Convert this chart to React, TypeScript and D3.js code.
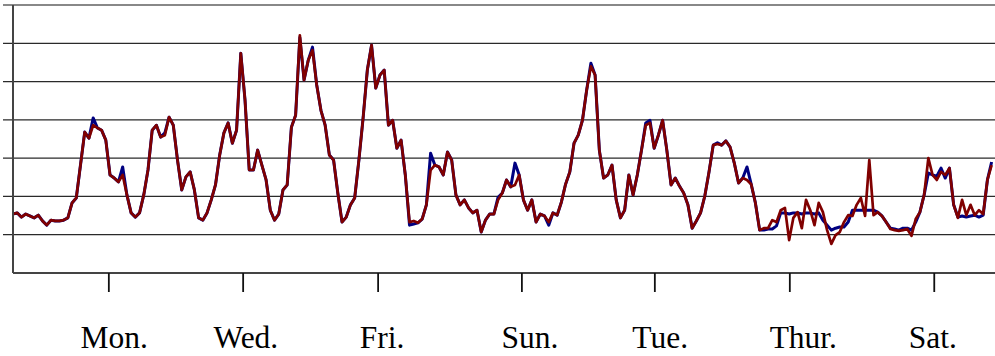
import * as d3 from "d3";

// 16 samples per day, first sample at day 0
const SAMPLES_PER_DAY = 16;

const RED = [
  154, 157, 146, 154, 149, 144, 151, 136, 125, 138,
  136, 136, 138, 144, 183, 196, 282, 368, 352, 386,
  379, 373, 347, 256, 248, 238, 256, 204, 157, 146,
  157, 204, 269, 373, 386, 355, 360, 407, 386, 295,
  217, 251, 264, 217, 144, 138, 157, 191, 230, 308,
  366, 392, 339, 373, 574, 452, 269, 269, 321, 282,
  243, 164, 138, 154, 217, 230, 381, 412, 621, 504,
  556, 582, 491, 425, 386, 308, 295, 209, 133, 146,
  178, 196, 295, 405, 530, 595, 483, 517, 530, 386,
  399, 326, 347, 256, 133, 136, 131, 141, 178, 269,
  282, 277, 256, 316, 295, 204, 178, 191, 170, 157,
  164, 107, 138, 154, 154, 191, 209, 243, 225, 230,
  256, 191, 164, 191, 133, 154, 149, 133, 157, 151,
  185, 232, 264, 339, 360, 399, 478, 540, 517, 321,
  248, 256, 282, 191, 144, 164, 256, 204, 256, 321,
  386, 392, 326, 360, 399, 321, 230, 248, 227, 209,
  178, 117, 136, 157, 201, 264, 334, 337, 334, 345,
  329, 287, 235, 248, 243, 232, 183, 112, 117, 117,
  138, 133, 164, 170, 86, 144, 159, 117, 191, 164,
  125, 183, 159, 112, 76, 99, 107, 133, 151, 149,
  178, 196, 149, 295, 151, 159, 149, 133, 115, 112,
  110, 112, 115, 97, 141, 159, 204, 300, 256, 243,
  264, 256, 274, 178, 144, 191, 151, 178, 151, 164,
  154, 243, 282,
];

const BLUE = [
  154, 157, 146, 154, 149, 144, 151, 136, 125, 138,
  136, 136, 138, 144, 183, 196, 282, 368, 352, 405,
  379, 373, 347, 256, 248, 238, 277, 204, 157, 146,
  157, 204, 269, 373, 386, 355, 366, 407, 386, 295,
  217, 251, 264, 217, 144, 138, 157, 191, 230, 308,
  366, 392, 339, 373, 574, 452, 269, 269, 321, 282,
  243, 164, 138, 154, 217, 230, 381, 412, 615, 504,
  556, 590, 491, 425, 386, 308, 295, 209, 133, 146,
  178, 196, 295, 405, 530, 595, 483, 517, 530, 386,
  399, 326, 347, 256, 125, 128, 131, 141, 178, 313,
  282, 277, 256, 316, 295, 204, 178, 191, 170, 157,
  164, 107, 138, 154, 154, 198, 209, 243, 225, 287,
  256, 191, 164, 191, 133, 154, 149, 125, 157, 151,
  185, 232, 264, 339, 360, 399, 478, 548, 517, 321,
  248, 256, 282, 191, 144, 164, 256, 204, 256, 321,
  392, 399, 326, 360, 399, 321, 230, 248, 227, 209,
  178, 117, 136, 157, 201, 264, 334, 340, 334, 345,
  329, 287, 235, 248, 277, 232, 183, 112, 112, 115,
  115, 123, 157, 157, 154, 157, 157, 154, 157, 157,
  154, 157, 138, 125, 112, 117, 120, 120, 133, 164,
  164, 164, 164, 164, 164, 159, 149, 133, 117, 115,
  112, 117, 117, 112, 133, 159, 204, 261, 256, 253,
  274, 248, 274, 178, 146, 149, 146, 149, 151, 146,
  151, 243, 290,
];

const GRID_VALUES = [0, 100, 200, 300, 400, 500, 600, 700];

const TICK_DAYS = [1.42, 3.41, 5.41, 7.54, 9.51, 11.51, 13.65];
const LABEL_DAYS = [1.5, 3.45, 5.47, 7.66, 9.59, 11.71, 13.63];
const DAY_LABELS = ["Mon.", "Wed.", "Fri.", "Sun.", "Tue.", "Thur.", "Sat."];

const WIDTH = 995;
const HEIGHT = 356;

export default function App() {
  const margin = { top: 5, right: 0, bottom: 83, left: 13 };

  const x = d3
    .scaleLinear()
    .domain([0, 14.55])
    .range([margin.left, WIDTH - margin.right]);
  const y = d3
    .scaleLinear()
    .domain([0, 700])
    .range([HEIGHT - margin.bottom, margin.top]);

  const line = d3
    .line<number>()
    .x((_, i) => x(i / SAMPLES_PER_DAY))
    .y((d) => y(d));

  const bottom = y(0);

  return (
    <svg
      width={WIDTH}
      height={HEIGHT}
      style={{ position: "absolute", left: 0, top: 0, background: "#fff" }}
    >
      {/* gridlines (with small ticks left of the axis) */}
      {GRID_VALUES.slice(1).map((v) => (
        <line
          key={v}
          x1={3}
          x2={WIDTH}
          y1={y(v)}
          y2={y(v)}
          stroke={v === 700 ? "#888" : "#2a2a2a"}
          strokeWidth={v === 700 ? 2 : 1.2}
        />
      ))}

      {/* series */}
      <path d={line(BLUE) ?? ""} fill="none" stroke="#000080" strokeWidth={3} strokeLinejoin="round" />
      <path d={line(RED) ?? ""} fill="none" stroke="#800000" strokeWidth={2.7} strokeLinejoin="round" />

      {/* axes */}
      <line x1={margin.left} x2={margin.left} y1={margin.top} y2={bottom} stroke="#444" strokeWidth={2} />
      <line x1={margin.left} x2={WIDTH} y1={bottom} y2={bottom} stroke="#444" strokeWidth={2.2} />

      {TICK_DAYS.map((d) => (
        <line key={d} x1={x(d)} x2={x(d)} y1={bottom} y2={bottom + 19} stroke="#111" strokeWidth={1.8} />
      ))}

      {DAY_LABELS.map((label, i) => (
        <text
          key={label}
          x={x(LABEL_DAYS[i])}
          y={348}
          textAnchor="middle"
          fontFamily="'Liberation Serif', 'Times New Roman', serif"
          fontSize={31.5}
          fill="#000"
        >
          {label}
        </text>
      ))}
    </svg>
  );
}
